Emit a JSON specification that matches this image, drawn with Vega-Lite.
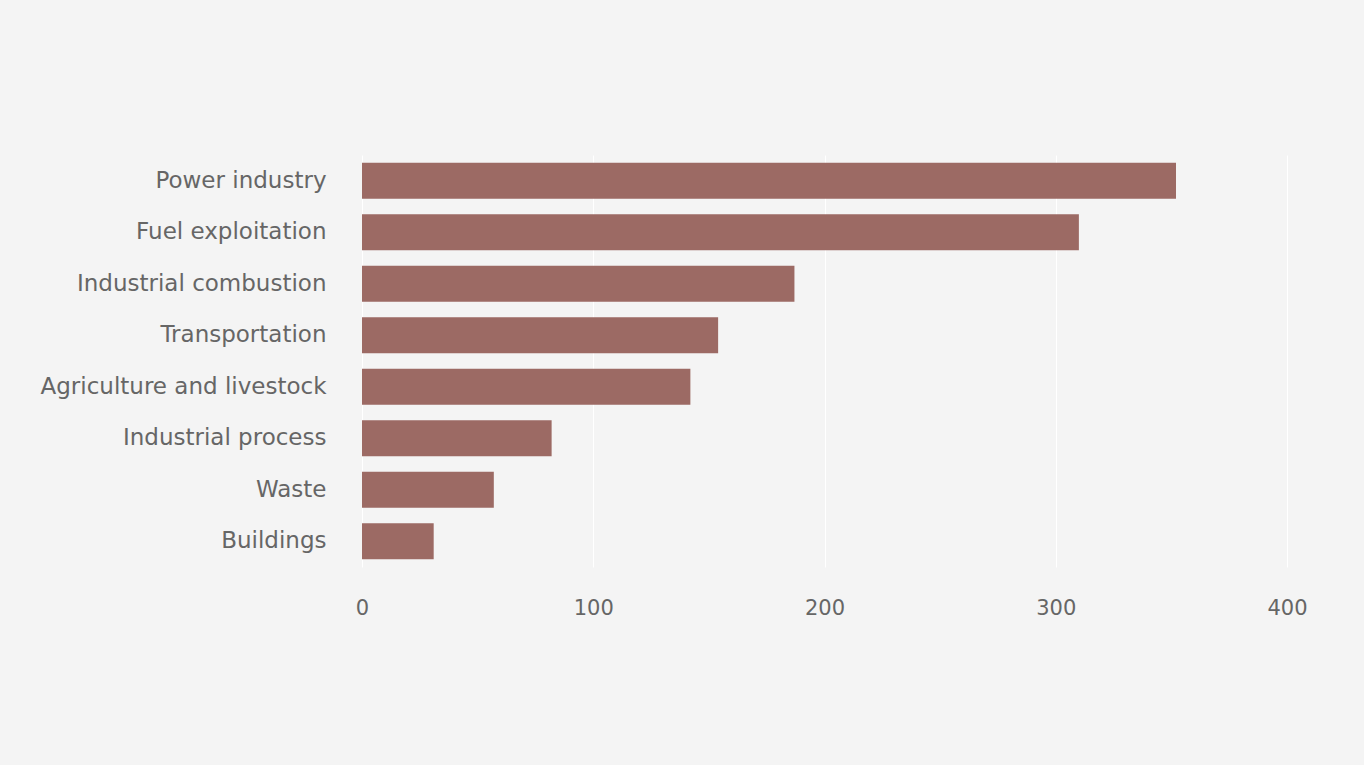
{
  "$schema": "https://vega.github.io/schema/vega-lite/v6.json",
  "width": 925,
  "height": 412,
  "autosize": {"type": "none"},
  "padding": {"left": 362, "top": 155, "right": 77, "bottom": 198},
  "background": "#f4f4f4",
  "data": {"values": [
    {"sector": "Power industry", "value": 352},
    {"sector": "Fuel exploitation", "value": 310},
    {"sector": "Industrial combustion", "value": 187},
    {"sector": "Transportation", "value": 154},
    {"sector": "Agriculture and livestock", "value": 142},
    {"sector": "Industrial process", "value": 82},
    {"sector": "Waste", "value": 57},
    {"sector": "Buildings", "value": 31}
  ]},
  "mark": {"type": "bar", "color": "#9c6a64"},
  "encoding": {
    "y": {"field": "sector", "type": "nominal", "sort": null, "title": null,
      "scale": {"paddingInner": 0.3, "paddingOuter": 0.15},
      "axis": {"domain": false, "ticks": false, "grid": false, "labelFont": "DejaVu Sans", "labelFontSize": 23, "labelColor": "#666666", "labelPadding": 36, "labelLimit": 400}},
    "x": {"field": "value", "type": "quantitative", "title": null,
      "scale": {"domain": [0, 400], "nice": false},
      "axis": {"values": [0, 100, 200, 300, 400], "domain": false, "ticks": false, "labelFlush": false, "gridColor": "#ffffff", "gridWidth": 1, "labelFont": "DejaVu Sans", "labelFontSize": 21, "labelColor": "#666666", "labelPadding": 30}}
  },
  "config": {"view": {"stroke": null}}
}
